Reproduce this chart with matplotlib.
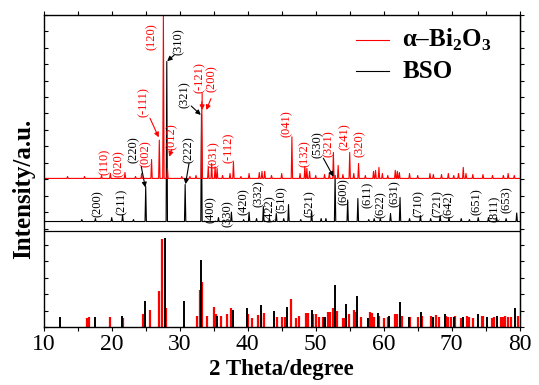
import numpy as np
import matplotlib
matplotlib.use("Agg")
import matplotlib.pyplot as plt
from matplotlib.ticker import MultipleLocator

plt.rcParams["font.family"] = "Liberation Serif"
plt.rcParams["mathtext.fontset"] = "custom"
plt.rcParams["mathtext.rm"] = "Liberation Serif:bold"
plt.rcParams["mathtext.bf"] = "Liberation Serif:bold"

# ---------------- measured pattern (peak list: 2theta, counts above baseline) ----
bso_base = 643
bso_pos = [15.6, 17.6, 20.0, 21.6, 23.2, 25.0, 28.1, 30.8, 33.2, 35.7, 37.6, 39.4,
           40.2, 41.3, 42.3, 43.2, 44.2, 45.3, 46.0, 47.8, 49.4, 50.8, 51.5, 52.85,
           54.7, 56.2, 57.8, 58.6, 59.5, 61.0, 62.4, 63.8, 65.4, 66.9, 68.3, 69.6,
           71.4, 72.6, 73.9, 75.4, 76.6, 78.0, 79.56]
bso_int = [12, 18, 24, 41, 12, 213, 973, 225, 649, 24, 57, 12,
           57, 18, 91, 18, 49, 18, 103, 12, 61, 18, 18, 280,
           131, 140, 12, 18, 18, 49, 146, 18, 36, 18, 36, 24,
           18, 12, 24, 24, 24, 18, 52]

bi2o3_base = 905
bi2o3_pos = [13.5, 16.0, 18.5, 19.8, 21.95, 23.5, 24.4, 25.86, 27.0, 27.6, 28.2,
             30.3, 31.5, 32.4, 33.25, 34.2, 34.7, 35.2, 35.5, 36.3, 37.4, 37.9,
             39.0, 40.2, 41.7, 42.1, 42.5, 43.5, 45.0, 46.5, 47.7, 48.4, 48.7,
             49.1, 50.0, 51.3, 52.0, 52.6, 53.3, 54.0, 55.0, 55.6, 56.3, 57.3,
             58.5, 58.8, 59.3, 59.8, 60.6, 61.7, 62.0, 62.3, 63.8, 65.0, 66.8,
             67.3, 68.5, 69.5, 70.3, 71.0, 71.7, 72.1, 73.1, 74.6, 76.0, 77.6,
             78.3, 79.2]
bi2o3_int = [12, 12, 18, 30, 36, 12, 30, 115, 233, 995, 61,
             12, 12, 18, 467, 71, 91, 71, 61, 18, 30, 101,
             12, 30, 36, 43, 43, 18, 30, 253, 30, 73, 61,
             43, 18, 24, 30, 158, 79, 24, 158, 30, 91, 18,
             43, 49, 67, 30, 18, 49, 43, 36, 30, 18, 30,
             24, 24, 30, 18, 30, 67, 30, 24, 24, 18, 18,
             30, 18]

# ---------------- standard cards (relative intensity, %) ----------------
bso_ref_pos = [12.4, 17.5, 21.5, 24.9, 27.9, 30.6, 33.2, 35.5, 37.8, 39.9, 41.9,
               43.9, 45.8, 49.45, 51.2, 51.4, 52.85, 54.5, 56.1, 57.7, 59.2, 60.8,
               62.35, 63.7, 65.5, 67.2, 68.95, 70.3, 71.7, 73.9, 75.2, 76.6, 79.3]
bso_ref_int = [11, 11, 13, 29, 100, 29, 75, 13, 19, 21, 25,
               18, 23, 19, 11, 11, 47, 26, 35, 10, 16, 13,
               28, 12, 17, 11, 15, 12, 11, 15, 11, 13, 22]

bi2o3_ref_pos = [16.3, 16.7, 19.7, 21.7, 24.6, 25.7, 26.9, 27.35, 28.0, 32.5, 33.0,
                 33.3, 34.0, 35.0, 35.4, 36.0, 37.0, 37.6, 40.1, 40.7, 41.5, 42.0,
                 42.4, 44.3, 45.1, 45.5, 46.4, 47.1, 47.6, 48.6, 48.8, 49.6, 50.1,
                 50.5, 51.0, 51.8, 52.1, 52.5, 53.1, 54.0, 54.3, 54.85, 55.6, 55.9,
                 56.7, 58.0, 58.3, 58.6, 59.3, 60.0, 60.6, 61.6, 61.9, 62.65, 63.9,
                 65.0, 65.7, 66.9, 67.7, 68.2, 69.2, 69.5, 69.9, 70.5, 71.3, 71.5,
                 72.2, 72.6, 73.2, 74.4, 74.6, 75.9, 76.2, 77.3, 77.6, 77.9, 78.3,
                 78.7, 79.7]
bi2o3_ref_int = [10, 11, 12, 10, 15, 19, 41, 99, 21, 13, 42,
                 50, 13, 23, 15, 13, 15, 22, 15, 10, 14, 13,
                 16, 11, 12, 11, 31, 10, 13, 16, 16, 15, 15,
                 11, 11, 17, 17, 22, 18, 10, 10, 15, 19, 17,
                 11, 17, 16, 12, 13, 10, 11, 15, 15, 13, 12,
                 11, 13, 13, 14, 11, 13, 12, 11, 13, 10, 10,
                 13, 12, 10, 13, 13, 10, 12, 12, 12, 13, 11,
                 12, 13]
ref_scale = 5.45

# ---------------- peak indexing ----------------
bi2o3_labels = [("(110)", 19.0, 926), ("(020)", 21.1, 914), ("(002)", 24.95, 975),
                ("(-111)", 24.75, 1278), ("(120)", 25.9, 1686), ("(012)", 28.8, 1078),
                ("(-121)", 32.9, 1425), ("(200)", 34.7, 1430), ("(031)", 34.95, 969),
                ("(-112)", 37.15, 999), ("(041)", 45.8, 1157), ("(132)", 48.4, 975),
                ("(321)", 51.85, 1035), ("(241)", 54.3, 1078), ("(320)", 56.5, 1035)]
bso_labels = [("(220)", 23.25, 999), ("(310)", 29.9, 1655), ("(222)", 31.3, 999),
              ("(321)", 30.8, 1333), ("(530)", 50.3, 1029), ("(200)", 17.9, 671),
              ("(211)", 21.5, 683), ("(400)", 34.5, 634), ("(330)", 37.1, 610),
              ("(420)", 39.35, 683), ("(332)", 41.6, 731), ("(422)", 43.3, 640),
              ("(510)", 45.0, 695), ("(521)", 49.2, 671), ("(600)", 54.1, 744),
              ("(611)", 57.6, 725), ("(622)", 59.5, 665), ("(631)", 61.7, 731),
              ("(710)", 65.2, 671), ("(721)", 68.0, 671), ("(642)", 69.6, 665),
              ("(651)", 73.7, 683), ("(811)", 76.4, 640), ("(653)", 78.1, 695)]

bi2o3_arrows = [((25.63, 1271), (26.91, 1155)), ((28.82, 1082), (28.47, 1037)),
                ((33.3, 1423), (33.3, 1321)), ((34.6, 1390), (33.9, 1321))]
bso_arrows = [((24.35, 976), (24.94, 851)), ((29.2, 1655), (28.15, 1618)),
              ((31.37, 997), (30.85, 870)), ((31.7, 1345), (33.1, 1291)),
              ((51.12, 1028), (52.6, 916))]


def pattern(base, pos, hgt, hw=0.1):
    xs, ys = [10.0], [base]
    for p, h in sorted(zip(pos, hgt)):
        xs += [p - hw, p, p + hw]
        ys += [base, base + h, base]
    xs.append(80.0)
    ys.append(base)
    return np.array(xs), np.array(ys)


fig = plt.figure(figsize=(5.39, 3.85), dpi=100)
ax = fig.add_axes([0.0811, 0.1499, 0.8831, 0.8118])

# stick patterns of the standard cards
ax.vlines(bi2o3_ref_pos, 0, np.array(bi2o3_ref_int) * ref_scale, color="red", lw=1.6)
ax.vlines(bso_ref_pos, 0, np.array(bso_ref_int) * ref_scale, color="black", lw=1.4)
ax.axhline(585, color="black", lw=0.9)

# measured patterns
x, y = pattern(bso_base, bso_pos, bso_int)
ax.plot(x, y, color="black", lw=0.8)
x, y = pattern(bi2o3_base, bi2o3_pos, bi2o3_int)
ax.plot(x, y, color="red", lw=0.8)

for txt, xx, yy in bi2o3_labels:
    ax.text(xx, yy, txt, color="red", rotation=90, ha="center", va="bottom", fontsize=9)
for txt, xx, yy in bso_labels:
    ax.text(xx, yy, txt, color="black", rotation=90, ha="center", va="bottom", fontsize=9)
for arrows, c in ((bi2o3_arrows, "red"), (bso_arrows, "black")):
    for tail, tip in arrows:
        ax.annotate("", xy=tip, xytext=tail,
                    arrowprops=dict(arrowstyle="-|>", color=c, lw=0.8,
                                    mutation_scale=7, shrinkA=0, shrinkB=0))

# legend
ax.plot([0.656, 0.725], [0.919, 0.919], color="red", lw=0.8, transform=ax.transAxes)
ax.plot([0.656, 0.725], [0.820, 0.820], color="black", lw=0.8, transform=ax.transAxes)
ax.text(0.753, 0.919, "α–Bi$_2$O$_3$", transform=ax.transAxes, fontsize=18,
        fontweight="bold", va="center", ha="left")
ax.text(0.753, 0.820, "BSO", transform=ax.transAxes, fontsize=18,
        fontweight="bold", va="center", ha="left")

ax.set_xlim(10, 80)
ax.set_ylim(0, 1900)
ax.xaxis.set_major_locator(MultipleLocator(10))
ax.xaxis.set_minor_locator(MultipleLocator(5))
ax.yaxis.set_major_locator(MultipleLocator(100))
ax.tick_params(axis="x", which="both", direction="out", length=3, width=0.8,
               top=True, labelsize=17, pad=2)
ax.tick_params(axis="y", which="both", direction="in", length=3, width=0.8,
               labelleft=False)
sec = ax.secondary_yaxis("right")
sec.yaxis.set_major_locator(MultipleLocator(100))
sec.tick_params(direction="out", length=3, width=0.8, labelright=False)
for s in ax.spines.values():
    s.set_linewidth(1.0)

ax.set_xlabel("2 Theta/degree", fontsize=16.5, fontweight="bold", labelpad=3)
ax.set_ylabel("Intensity/a.u.", fontsize=18, fontweight="bold")
ax.yaxis.set_label_coords(-0.018, 0.4426)

fig.savefig("out.png", dpi=100)
